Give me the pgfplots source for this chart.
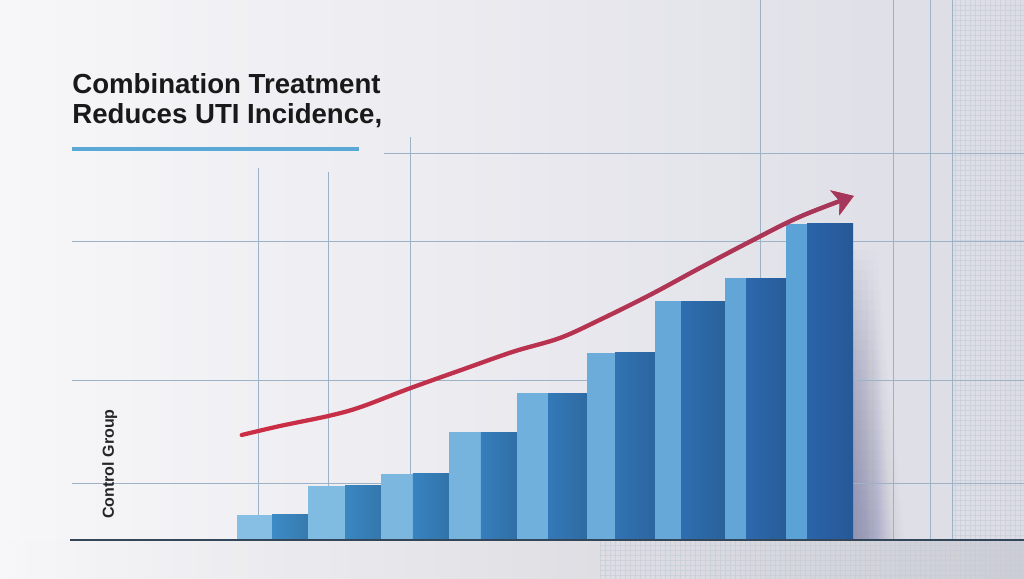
\documentclass[border=0pt]{standalone}
\usepackage{pgfplots}
\pgfplotsset{compat=1.18}
\usepackage{fontspec}
\setmainfont{Liberation Sans}
\usetikzlibrary{arrows.meta,fadings}
\definecolor{bgL}{HTML}{F7F7F9}
\definecolor{bgR}{HTML}{DCDCE5}
\definecolor{gridc}{HTML}{9DB2C6}
\definecolor{finec}{HTML}{C3CCD8}
\definecolor{basec}{HTML}{34475A}
\definecolor{shadowc}{HTML}{8587AA}
\definecolor{curveA}{HTML}{CD2E44}
\definecolor{curveC}{HTML}{A4385C}
\definecolor{titleline}{HTML}{5AA8D6}
\definecolor{Lone}{HTML}{86BFE3}\definecolor{Done}{HTML}{3D8BC6}
\definecolor{Ltwo}{HTML}{80BBE1}\definecolor{Dtwo}{HTML}{3A87C3}
\definecolor{Lthree}{HTML}{7BB7DF}\definecolor{Dthree}{HTML}{3883C0}
\definecolor{Lfour}{HTML}{76B4DE}\definecolor{Dfour}{HTML}{367EBC}
\definecolor{Lfive}{HTML}{70B0DC}\definecolor{Dfive}{HTML}{3479B8}
\definecolor{Lsix}{HTML}{6BACDA}\definecolor{Dsix}{HTML}{3173B4}
\definecolor{Lseven}{HTML}{66A9D8}\definecolor{Dseven}{HTML}{2F6EB0}
\definecolor{Leight}{HTML}{62A6D7}\definecolor{Deight}{HTML}{2D69AD}
\definecolor{Lnine}{HTML}{5BA3D6}\definecolor{Dnine}{HTML}{2B64AA}
\tikzfading[name=fadetoright, left color=transparent!0, right color=transparent!100]
\tikzfading[name=fadefromleft, left color=transparent!100, right color=transparent!0]
\pgfplotstableread{
x       y
0.569   33.05
1.129   35.9
1.835   39.07
2.298   41.83
3.029   47.85
3.808   53.87
4.539   59.44
5.222   63.78
5.807   69.55
6.538   77.41
7.269   85.96
8.000   94.30
8.731   102.2
9.520   108.8
}\trend
\begin{document}
\begin{tikzpicture}
\useasboundingbox (0,0) rectangle (512pt,289.5pt);
% background in pixel coordinates (origin top-left)
\begin{scope}[shift={(0pt,289.5pt)},x=0.5pt,y=-0.5pt]
  \shade[left color=bgL, right color=bgR] (0,0) rectangle (1024,579);
  \shade[left color=bgL, right color=bgR!85!black, opacity=0.45] (0,540) rectangle (1024,579);
  % fine grid on the right and at the bottom
  \foreach \gx in {955,960,...,1020} {\draw[finec, line width=0.2pt, opacity=0.6] (\gx,0) -- (\gx,540);}
  \foreach \gy in {5,10,...,535} {\draw[finec, line width=0.2pt, opacity=0.6] (952,\gy) -- (1024,\gy);}
  \foreach \gx in {600,605,...,1020} {\draw[finec, line width=0.2pt, opacity=0.6] (\gx,540) -- (\gx,579);}
  \foreach \gy in {545,550,...,575} {\draw[finec, line width=0.2pt, opacity=0.6] (600,\gy) -- (1024,\gy);}
  % shadow right of the last bar
  \foreach \i in {0,...,29} {\fill[shadowc, path fading=fadetoright, opacity=0.05] (853,{250+10*\i}) rectangle ({878+\i},540);}
  % grid lines
  \draw[gridc, line width=0.5pt] (258,168) -- (258,540);
  \draw[gridc, line width=0.5pt] (328,172) -- (328,540);
  \draw[gridc, line width=0.5pt] (410,137) -- (410,540);
  \draw[gridc, line width=0.5pt] (760,0) -- (760,540);
  \draw[gridc, line width=0.5pt] (893,0) -- (893,540);
  \draw[gridc, line width=0.5pt] (930,0) -- (930,540);
  \draw[gridc, line width=0.5pt] (952,0) -- (952,540);
  \draw[gridc, line width=0.5pt] (384,154) -- (1024,154);
  \draw[gridc, line width=0.5pt] (72,242) -- (1024,242);
  \draw[gridc, line width=0.5pt] (72,381) -- (1024,381);
  \draw[gridc, line width=0.5pt] (72,484) -- (1024,484);
\end{scope}
\begin{axis}[at={(0,0)}, anchor=south west, scale only axis,
  width=512pt, height=289.5pt,
  xmin=-2.965, xmax=12.006, ymin=-12.58, ymax=170.88,
  hide axis, clip=false]
  % pair 1
  \addplot[ybar, bar width=0.512, draw=none, fill=Lone] coordinates {(0.756,7.7)};
  \addplot[ybar, bar width=0.526, draw=none, left color=Done, right color=Done!88!black] coordinates {(1.275,7.7)};
  % pair 2
  \addplot[ybar, bar width=0.541, draw=none, fill=Ltwo] coordinates {(1.808,16.9)};
  \addplot[ybar, bar width=0.526, draw=none, left color=Dtwo, right color=Dtwo!88!black] coordinates {(2.342,16.9)};
  % pair 3
  \addplot[ybar, bar width=0.468, draw=none, fill=Lthree] coordinates {(2.839,20.7)};
  \addplot[ybar, bar width=0.526, draw=none, left color=Dthree, right color=Dthree!88!black] coordinates {(3.336,20.7)};
  % pair 4
  \addplot[ybar, bar width=0.468, draw=none, fill=Lfour] coordinates {(3.833,33.9)};
  \addplot[ybar, bar width=0.526, draw=none, left color=Dfour, right color=Dfour!88!black] coordinates {(4.330,33.9)};
  % pair 5
  \addplot[ybar, bar width=0.453, draw=none, fill=Lfive] coordinates {(4.820,46.3)};
  \addplot[ybar, bar width=0.570, draw=none, left color=Dfive, right color=Dfive!88!black] coordinates {(5.332,46.3)};
  % pair 6
  \addplot[ybar, bar width=0.409, draw=none, fill=Lsix] coordinates {(5.822,59.1)};
  \addplot[ybar, bar width=0.585, draw=none, left color=Dsix, right color=Dsix!88!black] coordinates {(6.319,59.1)};
  % pair 7
  \addplot[ybar, bar width=0.380, draw=none, fill=Lseven] coordinates {(6.801,75.4)};
  \addplot[ybar, bar width=0.643, draw=none, left color=Dseven, right color=Dseven!88!black] coordinates {(7.313,75.4)};
  % pair 8
  \addplot[ybar, bar width=0.307, draw=none, fill=Leight] coordinates {(7.788,82.7)};
  \addplot[ybar, bar width=0.585, draw=none, left color=Deight, right color=Deight!88!black] coordinates {(8.234,82.7)};
  % pair 9
  \addplot[ybar, bar width=0.307, draw=none, fill=Lnine] coordinates {(8.680,100)};
  \addplot[ybar, bar width=0.673, draw=none, left color=Dnine, right color=Dnine!88!black] coordinates {(9.170,100)};
  % trend curve: red base, maroon overlay fading in towards the right
  \addplot[curveA, line width=2.1pt, smooth, tension=0.55, line cap=round,
    -{Stealth[length=10pt, width=13pt, inset=2.5pt]}] table[x=x,y=y] {\trend};
  \addplot[curveC, line width=2.1pt, smooth, tension=0.55, path fading=fadefromleft,
    -{Stealth[length=10pt, width=13pt, inset=2.5pt]}] table[x=x,y=y] {\trend};
\end{axis}
\begin{scope}[shift={(0pt,289.5pt)},x=0.5pt,y=-0.5pt]
  \draw[basec, line width=0.7pt] (70,540) -- (1024,540);
  \draw[titleline, line width=2pt] (72,149.5) -- (359,149.5);
  \node[anchor=base west, inner sep=0pt, font=\fontsize{13.8}{15}\selectfont\bfseries, text=black!90] at (72,93.3) {Combination Treatment};
  \node[anchor=base west, inner sep=0pt, font=\fontsize{13.8}{15}\selectfont\bfseries, text=black!90] at (72,123.3) {Reduces UTI Incidence,};
  \node[rotate=90, anchor=base, inner sep=0pt, font=\fontsize{8}{9}\selectfont\bfseries, text=black!85] at (114,464) {Control Group};
\end{scope}
\end{tikzpicture}
\end{document}
